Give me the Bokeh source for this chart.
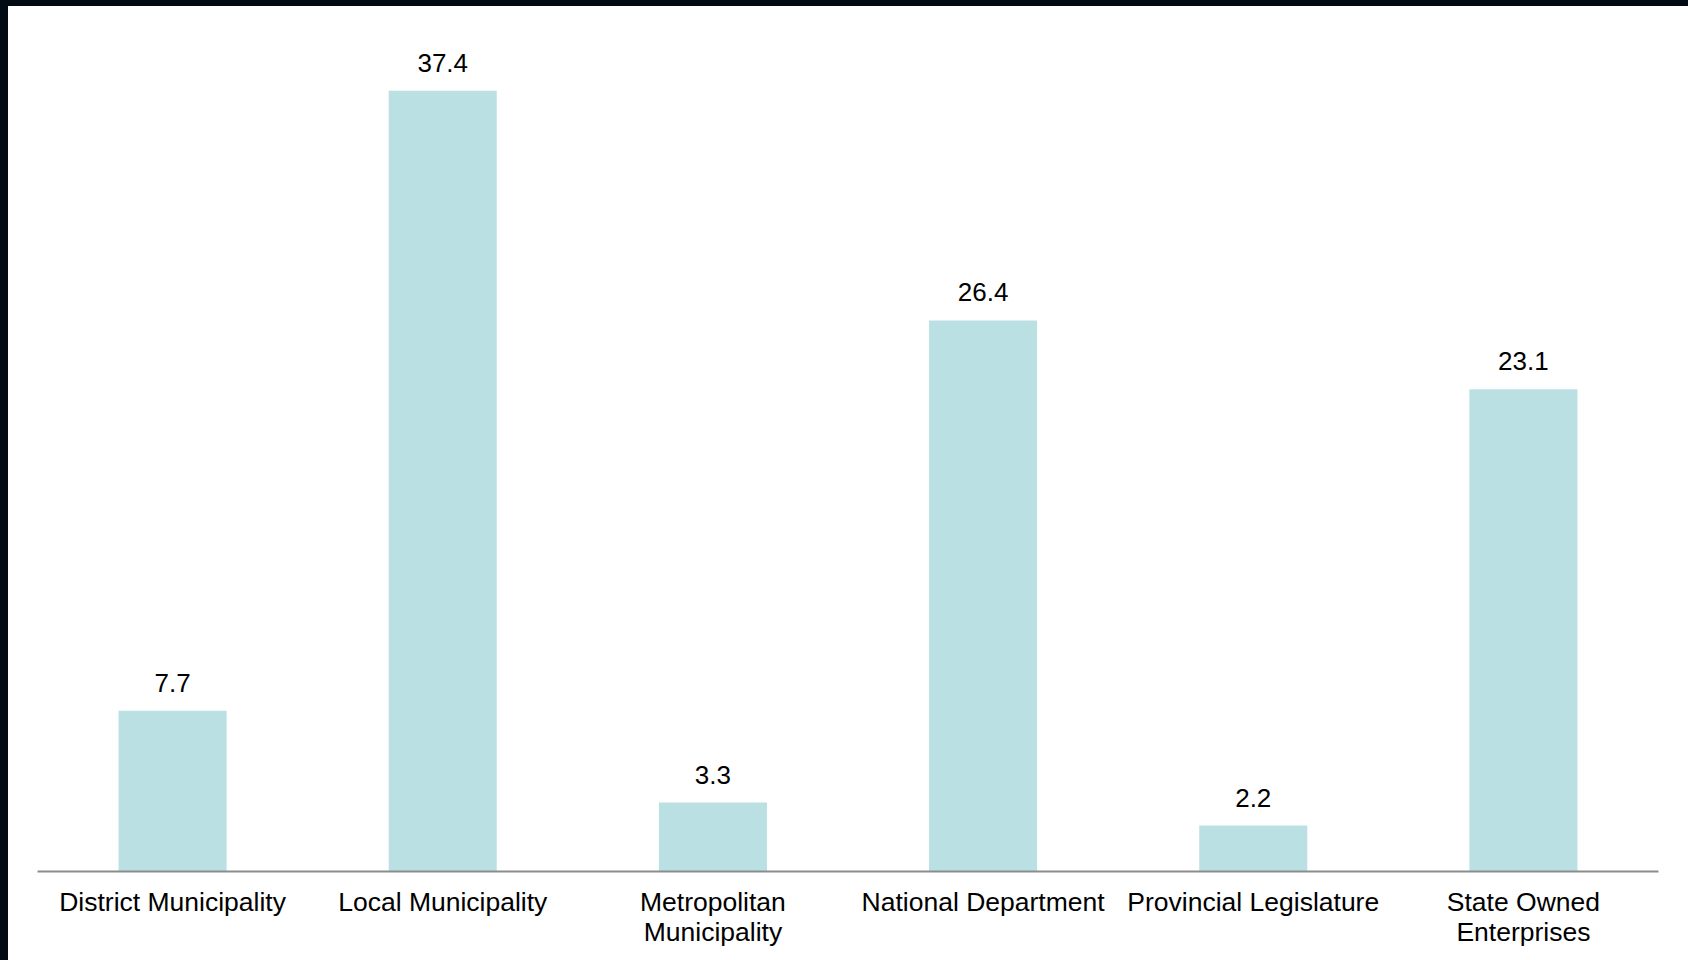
from bokeh.plotting import figure
from bokeh.models import ColumnDataSource
from bokeh.core.properties import value
from bokeh.embed import file_html
from bokeh.resources import INLINE

categories = ["District Municipality", "Local Municipality", "Metropolitan\nMunicipality",
              "National Department", "Provincial Legislature", "State Owned\nEnterprises"]
values = [7.7, 37.4, 3.3, 26.4, 2.2, 23.1]
labels = ["7.7", "37.4", "3.3", "26.4", "2.2", "23.1"]

FONT = "Liberation Sans"

source = ColumnDataSource(data=dict(cat=categories, val=values, lab=labels))

p = figure(x_range=categories, y_range=(0, 40), width=1680, height=954,
           output_backend="svg", toolbar_location=None,
           min_border_left=29, min_border_right=30, min_border_top=30, min_border_bottom=89)
p.x_range.range_padding = 0
p.styles = {"background-color": "white"}

p.vbar(x="cat", top="val", width=0.4, bottom=0, source=source,
       fill_color="#bbe0e3", line_color=None)

p.text(x="cat", y="val", text="lab", source=source, y_offset=-28,
       text_align="center", text_baseline="alphabetic",
       text_font=value(FONT), text_font_size="26px", text_color="#000000")

p.yaxis.visible = False
p.xgrid.visible = False
p.ygrid.visible = False
p.outline_line_color = None
p.background_fill_color = "white"
p.border_fill_color = "white"

ax = p.xaxis[0]
ax.axis_line_color = "#8c8c8c"
ax.axis_line_width = 2
ax.major_tick_line_color = None
ax.minor_tick_line_color = None
ax.major_tick_in = 0
ax.major_tick_out = 0
ax.major_label_standoff = 15
ax.major_label_text_font = FONT
ax.major_label_text_font_size = "26.5px"
ax.major_label_text_color = "#000000"
ax.major_label_text_line_height = 1.03
ax.major_label_orientation = "horizontal"

html = file_html(p, INLINE)
style = ("<style>html,body{background:#020b14 !important;}"
         "body{margin:6px 0 0 8px !important;overflow:hidden !important;}</style></head>")
html = html.replace("</head>", style, 1)
open("out.html", "w").write(html)
